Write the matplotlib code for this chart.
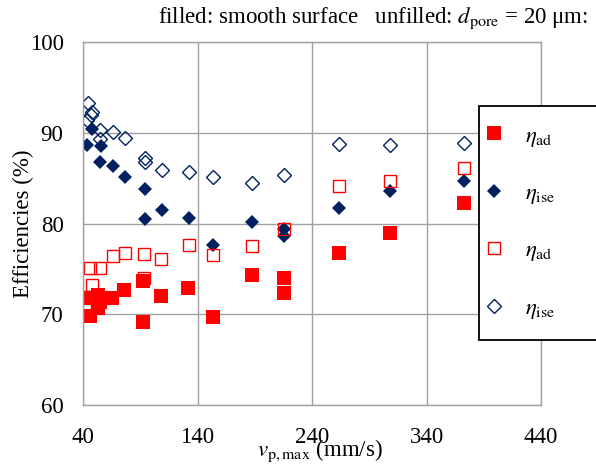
import matplotlib
matplotlib.use("Agg")
import matplotlib.pyplot as plt
from matplotlib.patches import Rectangle

plt.rcParams['font.family'] = ['Liberation Serif', 'DejaVu Serif']
plt.rcParams['mathtext.fontset'] = 'stix'

RED = '#FF0000'
NAVY = '#002060'
GRID = '#A0A0A0'

# filled: smooth surface
smooth_ad_x = [43.2, 46.1, 53.4, 53.4, 55.0, 65.1, 76.1, 92.7, 92.7, 108.1,
               131.4, 153.3, 187.3, 215.5, 215.5, 263.8, 308.1, 372.7]
smooth_ad_y = [71.8, 69.8, 72.1, 70.7, 71.4, 71.8, 72.7, 73.7, 69.1, 72.0,
               72.9, 69.7, 74.3, 74.0, 72.4, 76.8, 79.0, 82.3]
smooth_ise_x = [43.2, 47.6, 55.4, 54.8, 66.5, 76.7, 94.1, 94.1, 108.7, 132.6,
                153.3, 187.3, 215.5, 215.5, 263.8, 308.1, 372.7]
smooth_ise_y = [88.7, 90.4, 88.6, 86.8, 86.4, 85.2, 83.8, 80.5, 81.5, 80.6,
                77.6, 80.2, 79.4, 78.6, 81.7, 83.6, 84.7]

# unfilled: d_pore = 20 um
pore_ad_x = [42.0, 42.5, 46.1, 47.6, 54.8, 66.5, 76.7, 93.5, 93.5, 108.1,
             132.6, 153.3, 187.3, 215.5, 263.8, 308.1, 372.7]
pore_ad_y = [70.9, 71.9, 75.1, 73.2, 75.1, 76.4, 76.8, 76.7, 74.0, 76.1,
             77.6, 76.5, 77.5, 79.4, 84.2, 84.7, 86.1]
pore_ise_x = [44.1, 47.6, 46.7, 43.2, 54.8, 54.8, 66.5, 76.7, 94.1, 94.1,
              108.7, 132.6, 153.3, 187.3, 215.5, 263.8, 308.1, 372.7]
pore_ise_y = [93.3, 92.3, 92.0, 91.4, 90.3, 89.3, 90.1, 89.4, 87.2, 86.8,
              85.9, 85.7, 85.2, 84.5, 85.4, 88.8, 88.7, 88.9]

x_ticks = [40, 140, 240, 340, 440]
y_ticks = [60, 70, 80, 90, 100]

fig = plt.figure(figsize=(5.96, 4.66), dpi=100)
ax = fig.add_axes([0.1393, 0.1309, 0.7685, 0.7783])

h1, = ax.plot(smooth_ad_x, smooth_ad_y, ls='none', marker='s', ms=9.6,
              mfc=RED, mec=RED, mew=0, label=r'$\eta_{\rm ad}$')
h2, = ax.plot(smooth_ise_x, smooth_ise_y, ls='none', marker='D', ms=7.6,
              mfc=NAVY, mec=NAVY, mew=0, label=r'$\eta_{\rm ise}$')
h3, = ax.plot(pore_ad_x, pore_ad_y, ls='none', marker='s', ms=9.2,
              mfc='none', mec=RED, mew=1.0, label=r'$\eta_{\rm ad}$')
h4, = ax.plot(pore_ise_x, pore_ise_y, ls='none', marker='D', ms=7.0,
              mfc='none', mec=NAVY, mew=1.0, label=r'$\eta_{\rm ise}$')

ax.set_xlim(40, 440)
ax.set_ylim(60, 100)
ax.set_xticks(x_ticks)
ax.set_yticks(y_ticks)
ax.tick_params(length=0, labelsize=16.5)
ax.tick_params(axis='x', pad=16)
ax.tick_params(axis='y', pad=14)
ax.grid(True, color=GRID, lw=1.0)
ax.set_axisbelow(True)
for s in ax.spines.values():
    s.set_color(GRID)
    s.set_linewidth(1.0)

ax.set_xlabel(r'$v_{\rm p,max}$ (mm/s)', fontsize=16.5)
ax.xaxis.label.set_va('center')
ax.xaxis.set_label_coords(0.517, -0.127)
ax.set_ylabel('Efficiencies (%)', fontsize=16.5)
ax.yaxis.label.set_va('center')
ax.yaxis.set_label_coords(-0.129, 0.5)

fig.text(0.987, 0.951, r'filled: smooth surface   unfilled: $d_{\rm pore}$ = 20 μm:',
         ha='right', va='baseline', fontsize=16.5)

# legend box running off the right edge
fig.patches.append(Rectangle((0.8037, 0.2704), 0.25, 0.5021, transform=fig.transFigure,
                             facecolor='white', edgecolor='black', lw=1.3, zorder=5))
leg = fig.legend(handles=[h1, h2, h3, h4], loc='upper left',
                 bbox_to_anchor=(0.775, 0.775), frameon=False, fontsize=16.5,
                 labelspacing=1.5, handlelength=1.0, handletextpad=0.85)
leg.set_zorder(6)

fig.savefig('out.png', dpi=100)
